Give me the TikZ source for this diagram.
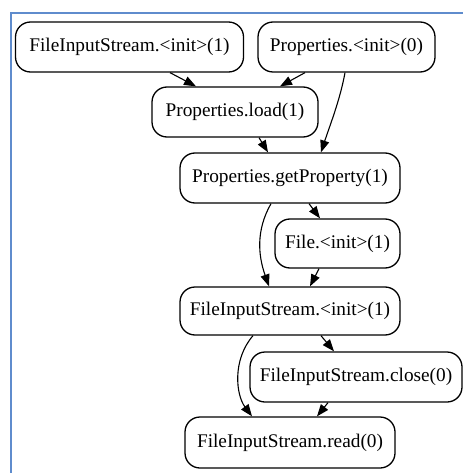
\documentclass[tikz,border=0pt]{standalone}
\usepackage{fontspec}
\setmainfont{Liberation Serif}
\usetikzlibrary{arrows.meta}
\definecolor{frameblue}{RGB}{95,140,205}
\tikzset{
  x=1pt, y=-1pt,
  box/.style={draw, line width=1.3pt, rounded corners=15pt, inner sep=0pt,
    minimum height=50pt, font=\fontsize{19.3}{22}\selectfont},
  edge/.style={line width=1.1pt, -{Triangle[length=12pt,width=9pt]}}
}
\begin{document}
\begin{tikzpicture}
\useasboundingbox (0,0) rectangle (463,473);
\draw[frameblue, line width=2.5pt] (11,473) -- (11,13) -- (463,13);

\node[box, minimum width=228pt] (fis1) at (129.5,47) {FileInputStream.<init>(1)};
\node[box, minimum width=177pt] (pinit) at (346.5,47) {Properties.<init>(0)};
\node[box, minimum width=166pt] (pload) at (235,112) {Properties.load(1)};
\node[box, minimum width=220pt] (pget) at (290,178) {Properties.getProperty(1)};
\node[box, minimum width=125pt, minimum height=49pt] (finit) at (337.5,243.5) {File.<init>(1)};
\node[box, minimum width=220pt, minimum height=48pt] (fis2) at (290,311) {FileInputStream.<init>(1)};
\node[box, minimum width=212pt] (fclose) at (356,377) {FileInputStream.close(0)};
\node[box, minimum width=210pt, minimum height=51pt] (fread) at (290,442.5) {FileInputStream.read(0)};

\draw[edge] (fis1.south -| 170,0) -- (pload.north -| 196,0);
\draw[edge] (pinit.south -| 305,0) -- (pload.north -| 280,0);
\draw[edge] (pinit.south -| 345,0) .. controls (340,100) and (330,125) .. (pget.north -| 321,0);
\draw[edge] (pload.south -| 259,0) -- (pget.north -| 268,0);
\draw[edge] (pget.south -| 309,0) -- (finit.north -| 320,0);
\draw[edge] (pget.south -| 271,0) .. controls (256,230) and (258,255) .. (fis2.north -| 269,0);
\draw[edge] (finit.south -| 319,0) -- (fis2.north -| 310,0);
\draw[edge] (fis2.south -| 321,0) -- (fclose.north -| 334,0);
\draw[edge] (fis2.south -| 253,0) .. controls (232,360) and (236,395) .. (fread.north -| 252,0);
\draw[edge] (fclose.south -| 328,0) -- (fread.north -| 317,0);
\end{tikzpicture}
\end{document}
